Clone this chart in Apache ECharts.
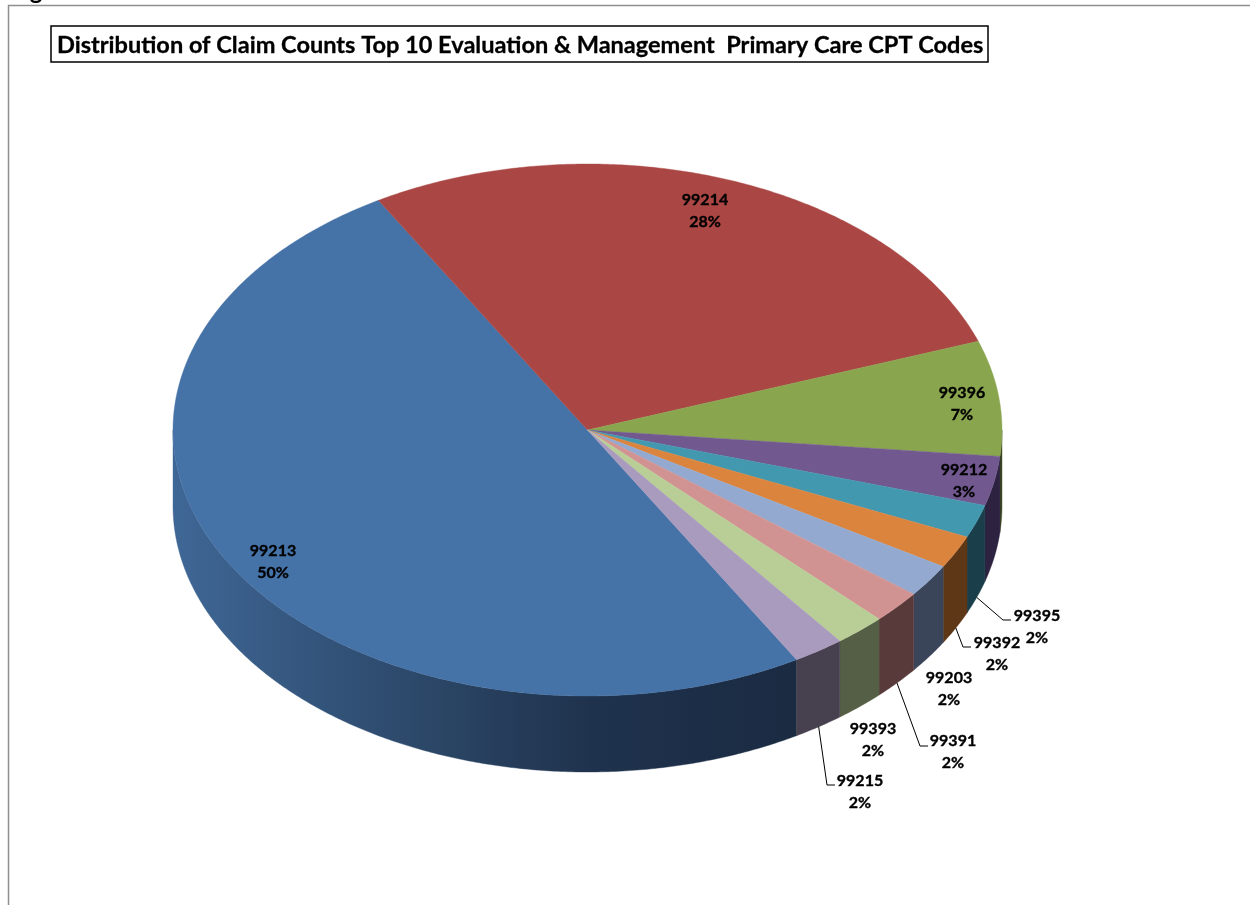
<!DOCTYPE html>
<html>
<head>
<meta charset="utf-8">
<style>html,body{margin:0;padding:0;background:#fff}#chart{width:1250px;height:905px}</style>
<script src="https://cdn.jsdelivr.net/npm/echarts@6/dist/echarts.min.js"></script>
</head>
<body>
<div id="chart"></div>
<script>
// CPT codes and their share of claim counts, percent
const codes = ['99213', '99214', '99396', '99212', '99395', '99392', '99203', '99391', '99393', '99215'];
const shares = [50, 28, 7, 3, 2, 2, 2, 2, 2, 2];

// Slice colours: top face and side wall
const topColors = ['#4572A7', '#AA4643', '#89A54E', '#71588F', '#4198AF', '#DB843D', '#93A9CF', '#D19392', '#B9CD96', '#A99BBD'];
const sideColors = ['#1b2c44', '#5a2220', '#3c4722', '#2d2340', '#1a3f4a', '#5e3716', '#3b4559', '#593a3a', '#555f45', '#47414f'];

// Label centres; the ones with a leader also list the elbow and stub end
const labelLayout = [
  { x: 273, y: 562 },
  { x: 705, y: 211 },
  { x: 962, y: 404 },
  { x: 964, y: 481 },
  { x: 1037, y: 627, elbow: [1003, 620], end: [1011, 620] },
  { x: 997, y: 654, elbow: [963, 647], end: [971, 647] },
  { x: 949, y: 689 },
  { x: 953, y: 752, elbow: [920, 746], end: [928, 746] },
  { x: 873, y: 740 },
  { x: 860, y: 792, elbow: [827, 785], end: [835, 785] }
];

// Pie geometry: ellipse centre, radii, wall depth, first slice angle (deg clockwise from 12 o'clock)
const pie = { cx: 587.5, cy: 430, rx: 414.5, ry: 266, depth: 76, start: 149.7 };
const titleText = 'Distribution of Claim Counts Top 10 Evaluation & Management  Primary Care CPT Codes';
const captionText = 'Figure';
const labelFont = 'bold 16px Lato, sans-serif';

const total = shares.reduce((a, b) => a + b, 0);
function sliceRange(i, share) {
  let before = 0;
  for (let k = 0; k < i; k++) before += shares[k];
  const a = pie.start + before / total * 360;
  return [a, a + share / total * 360];
}
function rim(deg, dy) {
  const t = deg * Math.PI / 180;
  return [pie.cx + pie.rx * Math.sin(t), pie.cy - pie.ry * Math.cos(t) + (dy || 0)];
}
function arc(a, b, dy) {
  const pts = [];
  const n = Math.max(2, Math.ceil((b - a) * 2));
  for (let k = 0; k <= n; k++) pts.push(rim(a + (b - a) * k / n, dy));
  return pts;
}

// Side walls: only the part of each slice that faces the viewer
function renderWall(params, api) {
  const i = api.value(0);
  const [a, b] = sliceRange(i, api.value(1));
  const children = [];
  [[90, 270], [450, 630]].forEach(([lo, hi]) => {
    const s = Math.max(a, lo), e = Math.min(b, hi);
    if (e <= s) return;
    const pts = arc(s, e, 0).concat(arc(s, e, pie.depth).reverse());
    let fill = sideColors[i];
    if (i === 0) {
      fill = new echarts.graphic.LinearGradient(173, 0, 794, 0, [
        { offset: 0, color: '#3f6796' },
        { offset: 0.2, color: '#35577f' },
        { offset: 0.46, color: '#294362' },
        { offset: 0.68, color: '#1f324d' },
        { offset: 1, color: '#1a2b42' }
      ], true);
    }
    children.push({
      type: 'polygon',
      shape: { points: pts },
      style: { fill: fill, stroke: fill, lineWidth: 0.4 }
    });
  });
  return { type: 'group', children: children };
}

// Top faces of the slices
function renderTop(params, api) {
  const i = api.value(0);
  const [a, b] = sliceRange(i, api.value(1));
  const pts = [[pie.cx, pie.cy]].concat(arc(a, b, 0));
  return {
    type: 'polygon',
    shape: { points: pts },
    style: { fill: topColors[i], stroke: topColors[i], lineWidth: 0.4 }
  };
}

// Code and percent labels, plus leaders for the narrow slices
function renderLabel(params, api) {
  const i = api.value(0);
  const share = api.value(1);
  const [a, b] = sliceRange(i, share);
  const spot = labelLayout[i];
  const children = [{
    type: 'text',
    style: {
      x: spot.x, y: spot.y,
      text: codes[i] + '\n' + share + '%',
      font: labelFont, lineHeight: 22.5,
      fill: '#000', stroke: '#000', lineWidth: 0.35,
      align: 'center', verticalAlign: 'middle'
    }
  }];
  if (spot.elbow) {
    children.push({
      type: 'polyline',
      shape: { points: [rim((a + b) / 2, pie.depth), spot.elbow, spot.end] },
      style: { fill: 'none', stroke: '#000', lineWidth: 1 }
    });
  }
  return { type: 'group', children: children };
}

const rows = codes.map((c, i) => [i, shares[i], c]);
const chart = echarts.init(document.getElementById('chart'), null, { renderer: 'canvas' });
chart.setOption({
  animation: false,
  backgroundColor: '#fff',
  title: {
    text: titleText,
    left: 51, top: 26,
    padding: [7, 5, 5, 6],
    borderColor: '#000', borderWidth: 1.5,
    backgroundColor: '#fff',
    textStyle: {
      fontFamily: 'Lato, sans-serif', fontWeight: 'bold', fontSize: 23.55, color: '#000', lineHeight: 24,
      textBorderColor: '#000', textBorderWidth: 0.3
    }
  },
  graphic: [{
    type: 'polyline',
    silent: true,
    shape: { points: [[8.5, 905], [8.5, 5.5], [1250, 5.5]] },
    style: { fill: 'none', stroke: '#8f8f8f', lineWidth: 1.5 }
  }, {
    // Caption sitting just above the page edge; only the descender shows
    type: 'text',
    silent: true,
    x: 10, y: -21,
    style: { text: captionText, font: 'bold 24px Lato, sans-serif', fill: '#000', align: 'left', verticalAlign: 'top' }
  }],
  series: [
    { type: 'custom', coordinateSystem: 'none', z: 1, silent: true, data: rows, renderItem: renderWall },
    { type: 'custom', coordinateSystem: 'none', z: 2, silent: true, data: rows, renderItem: renderTop },
    { type: 'custom', coordinateSystem: 'none', z: 3, silent: true, data: rows, renderItem: renderLabel }
  ]
});
</script>
</body>
</html>
